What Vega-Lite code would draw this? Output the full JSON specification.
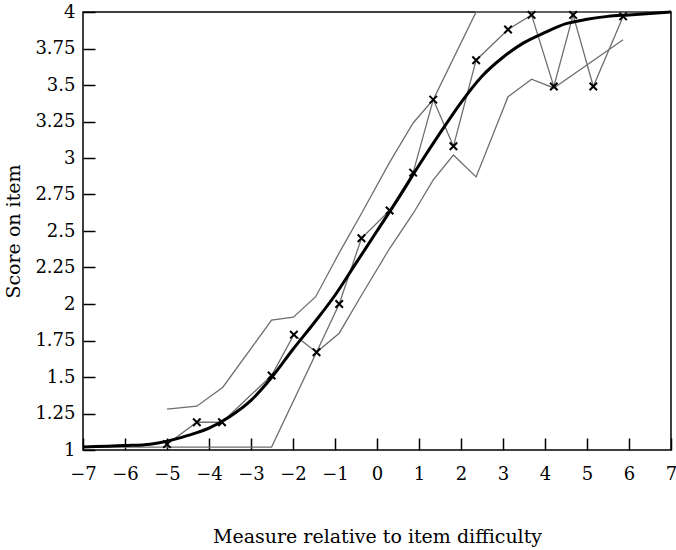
{
  "$schema": "https://vega.github.io/schema/vega-lite/v6.json",
  "width": 588,
  "height": 438,
  "autosize": "none",
  "padding": {"left": 83, "top": 12, "right": 5, "bottom": 100},
  "background": "white",
  "config": {
    "view": {"stroke": "black", "strokeWidth": 1.5},
    "font": "DejaVu Serif",
    "axis": {
      "grid": false,
      "ticks": true,
      "zindex": 1,
      "offset": -12,
      "domain": false,
      "tickSize": 12, "tickWidth": 1.5, "tickColor": "#000000", "tickOpacity": 1,
      "labelFont": "DejaVu Serif", "labelFontSize": 18, "labelColor": "black",
      "labelFlush": false, "labelOverlap": false,
      "titleFont": "DejaVu Serif", "titleFontSize": 19, "titleFontWeight": "normal", "titleColor": "black"
    },
    "axisX": {"labelPadding": 15, "titleY": 104, "titleBaseline": "alphabetic"},
    "axisY": {"labelPadding": 8, "titlePadding": 11}
  },
  "datasets": {
    "lines": [
      {"series": "lower", "x": -7, "y": 1.02},
      {"series": "lower", "x": -2.51, "y": 1.02},
      {"series": "lower", "x": -1.44, "y": 1.67},
      {"series": "lower", "x": -0.9, "y": 1.8},
      {"series": "lower", "x": -0.37, "y": 2.06},
      {"series": "lower", "x": 0.3, "y": 2.38},
      {"series": "lower", "x": 0.86, "y": 2.62},
      {"series": "lower", "x": 1.34, "y": 2.85},
      {"series": "lower", "x": 1.82, "y": 3.02},
      {"series": "lower", "x": 2.36, "y": 2.87},
      {"series": "lower", "x": 3.12, "y": 3.42},
      {"series": "lower", "x": 3.68, "y": 3.54},
      {"series": "lower", "x": 4.21, "y": 3.48},
      {"series": "lower", "x": 5.86, "y": 3.81},
      {"series": "upper", "x": -5.0, "y": 1.28},
      {"series": "upper", "x": -4.29, "y": 1.3},
      {"series": "upper", "x": -3.67, "y": 1.43},
      {"series": "upper", "x": -2.51, "y": 1.89},
      {"series": "upper", "x": -1.99, "y": 1.91},
      {"series": "upper", "x": -1.46, "y": 2.05},
      {"series": "upper", "x": -0.9, "y": 2.35},
      {"series": "upper", "x": -0.37, "y": 2.62},
      {"series": "upper", "x": 0.3, "y": 2.97},
      {"series": "upper", "x": 0.86, "y": 3.24},
      {"series": "upper", "x": 1.34, "y": 3.4},
      {"series": "upper", "x": 2.36, "y": 4.0},
      {"series": "upper", "x": 3.12, "y": 4.0},
      {"series": "upper", "x": 4.21, "y": 4.0},
      {"series": "upper", "x": 5.86, "y": 4.0},
      {"series": "upper", "x": 6.8, "y": 4.0},
      {"series": "observed", "x": -5.0, "y": 1.04},
      {"series": "observed", "x": -4.29, "y": 1.19},
      {"series": "observed", "x": -3.69, "y": 1.19},
      {"series": "observed", "x": -2.51, "y": 1.51},
      {"series": "observed", "x": -1.98, "y": 1.79},
      {"series": "observed", "x": -1.44, "y": 1.67},
      {"series": "observed", "x": -0.9, "y": 2.0},
      {"series": "observed", "x": -0.37, "y": 2.45},
      {"series": "observed", "x": 0.3, "y": 2.64},
      {"series": "observed", "x": 0.86, "y": 2.9},
      {"series": "observed", "x": 1.34, "y": 3.4},
      {"series": "observed", "x": 1.82, "y": 3.08},
      {"series": "observed", "x": 2.36, "y": 3.67},
      {"series": "observed", "x": 3.12, "y": 3.88},
      {"series": "observed", "x": 3.68, "y": 3.98},
      {"series": "observed", "x": 4.21, "y": 3.49},
      {"series": "observed", "x": 4.67, "y": 3.98},
      {"series": "observed", "x": 5.15, "y": 3.49},
      {"series": "observed", "x": 5.86, "y": 3.97}
    ],
    "curve": [
      {"x": -7, "y": 1.02},
      {"x": -6, "y": 1.03},
      {"x": -5.4, "y": 1.04},
      {"x": -5, "y": 1.06},
      {"x": -4.5, "y": 1.1},
      {"x": -4, "y": 1.15},
      {"x": -3.5, "y": 1.23},
      {"x": -3, "y": 1.34},
      {"x": -2.5, "y": 1.5},
      {"x": -2, "y": 1.69},
      {"x": -1.5, "y": 1.87},
      {"x": -1, "y": 2.06},
      {"x": -0.5, "y": 2.28},
      {"x": 0, "y": 2.5},
      {"x": 0.5, "y": 2.72},
      {"x": 1, "y": 2.95},
      {"x": 1.5, "y": 3.17},
      {"x": 2, "y": 3.38},
      {"x": 2.5, "y": 3.56},
      {"x": 3, "y": 3.69},
      {"x": 3.5, "y": 3.79},
      {"x": 4, "y": 3.86},
      {"x": 4.5, "y": 3.92},
      {"x": 5, "y": 3.95},
      {"x": 5.5, "y": 3.97},
      {"x": 6, "y": 3.98},
      {"x": 7, "y": 4.0}
    ],
    "xticks": [
      {"x": -6}, {"x": -5}, {"x": -4}, {"x": -3}, {"x": -2}, {"x": -1}, {"x": 0},
      {"x": 1}, {"x": 2}, {"x": 3}, {"x": 4}, {"x": 5}, {"x": 6}
    ],
    "yticks": [
      {"y": 1.25}, {"y": 1.5}, {"y": 1.75}, {"y": 2}, {"y": 2.25}, {"y": 2.5},
      {"y": 2.75}, {"y": 3}, {"y": 3.25}, {"y": 3.5}, {"y": 3.75}
    ],
    "note": [
      {"label": "Upper 95% two-sided"}
    ]
  },
  "encoding": {
    "x": {
      "field": "x", "type": "quantitative",
      "scale": {"domain": [-7, 7], "nice": false, "zero": false},
      "axis": {
        "values": [-7, -6, -5, -4, -3, -2, -1, 0, 1, 2, 3, 4, 5, 6, 7],
        "title": "Measure relative to item difficulty"
      }
    },
    "y": {
      "field": "y", "type": "quantitative",
      "scale": {"domain": [1, 4], "nice": false, "zero": false},
      "axis": {
        "values": [1, 1.25, 1.5, 1.75, 2, 2.25, 2.5, 2.75, 3, 3.25, 3.5, 3.75, 4],
        "format": ".2~f",
        "title": "Score on item"
      }
    }
  },
  "layer": [
    {
      "data": {"name": "xticks"},
      "mark": {"type": "tick", "orient": "vertical", "color": "black", "size": 12, "thickness": 1.5, "yOffset": -6, "opacity": 1},
      "encoding": {
        "y": {"datum": 1, "type": "quantitative"}
      }
    },
    {
      "data": {"name": "yticks"},
      "mark": {"type": "tick", "orient": "horizontal", "color": "black", "size": 12, "thickness": 1.5, "xOffset": 6, "opacity": 1},
      "encoding": {
        "x": {"datum": -7, "type": "quantitative"}
      }
    },
    {
      "data": {"name": "lines"},
      "mark": {"type": "line", "color": "#6e6e6e", "strokeWidth": 1.3},
      "encoding": {
        "detail": {"field": "series"}
      }
    },
    {
      "data": {"name": "curve"},
      "mark": {"type": "line", "color": "black", "strokeWidth": 3, "interpolate": "monotone"},
      "encoding": {}
    },
    {
      "data": {"name": "lines"},
      "transform": [{"filter": "datum.series === 'observed'"}],
      "mark": {"type": "point", "shape": "M-1,-1L1,1M-1,1L1,-1", "filled": false, "stroke": "black", "strokeWidth": 2, "size": 56, "opacity": 1},
      "encoding": {}
    },
    {
      "data": {"name": "note"},
      "mark": {"type": "text", "text": ["Upper 95% two-sided", "confidence interval"], "align": "left", "baseline": "top", "font": "DejaVu Serif", "fontSize": 19, "lineHeight": 25, "color": "#8c8c8c"},
      "encoding": {
        "x": {"datum": -6.05, "type": "quantitative"},
        "y": {"datum": 3.83, "type": "quantitative"}
      }
    }
  ]
}
